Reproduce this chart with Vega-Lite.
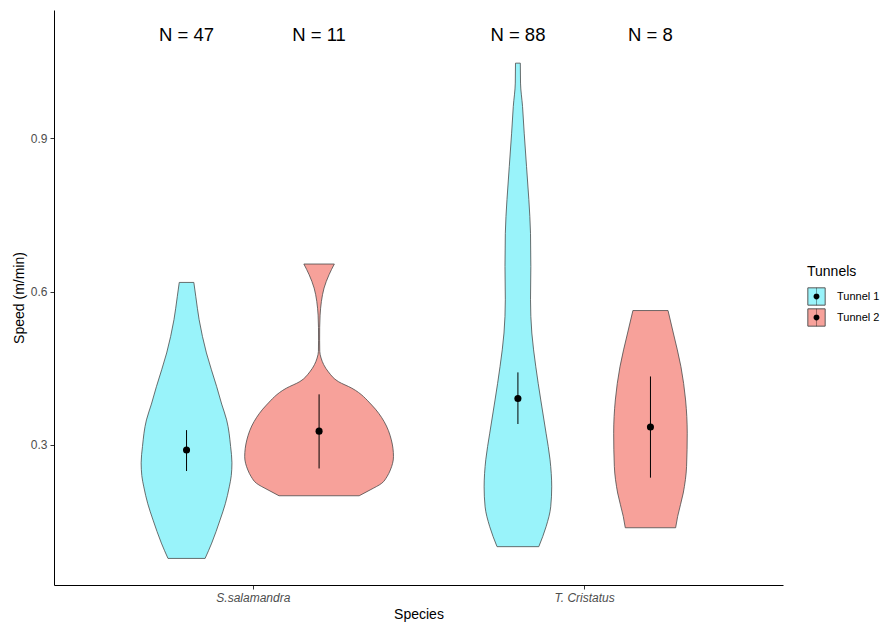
{
  "$schema": "https://vega.github.io/schema/vega-lite/v6.json",
  "width": 729,
  "height": 575,
  "autosize": {"type": "none"},
  "padding": {"left": 54, "top": 10, "right": 103, "bottom": 39},
  "background": "white",
  "config": {
    "view": {"stroke": null},
    "font": "Liberation Sans",
    "axis": {
      "grid": false,
      "domainColor": "black",
      "domainWidth": 1,
      "tickColor": "#333333",
      "tickSize": 4,
      "labelColor": "#4D4D4D",
      "labelFontSize": 12,
      "labelFont": "Liberation Sans",
      "titleFont": "Liberation Sans",
      "titleFontSize": 14,
      "titleFontWeight": "normal",
      "titleColor": "black"
    },
    "axisX": {"labelFontStyle": "italic", "labelPadding": 3, "titlePadding": 4},
    "axisY": {"labelPadding": 3, "titlePadding": 4},
    "legend": {"titleFont": "Liberation Sans", "labelFont": "Liberation Sans"}
  },
  "datasets": {
    "violins": [
      {"sp": "S.salamandra", "tunnel": "Tunnel 1", "speed": 0.618, "hw": 0.022},
      {"sp": "S.salamandra", "tunnel": "Tunnel 1", "speed": 0.590, "hw": 0.028},
      {"sp": "S.salamandra", "tunnel": "Tunnel 1", "speed": 0.545, "hw": 0.038},
      {"sp": "S.salamandra", "tunnel": "Tunnel 1", "speed": 0.480, "hw": 0.060},
      {"sp": "S.salamandra", "tunnel": "Tunnel 1", "speed": 0.414, "hw": 0.091},
      {"sp": "S.salamandra", "tunnel": "Tunnel 1", "speed": 0.380, "hw": 0.106},
      {"sp": "S.salamandra", "tunnel": "Tunnel 1", "speed": 0.349, "hw": 0.121},
      {"sp": "S.salamandra", "tunnel": "Tunnel 1", "speed": 0.297, "hw": 0.133},
      {"sp": "S.salamandra", "tunnel": "Tunnel 1", "speed": 0.265, "hw": 0.137},
      {"sp": "S.salamandra", "tunnel": "Tunnel 1", "speed": 0.240, "hw": 0.135},
      {"sp": "S.salamandra", "tunnel": "Tunnel 1", "speed": 0.218, "hw": 0.129},
      {"sp": "S.salamandra", "tunnel": "Tunnel 1", "speed": 0.185, "hw": 0.117},
      {"sp": "S.salamandra", "tunnel": "Tunnel 1", "speed": 0.153, "hw": 0.101},
      {"sp": "S.salamandra", "tunnel": "Tunnel 1", "speed": 0.108, "hw": 0.076},
      {"sp": "S.salamandra", "tunnel": "Tunnel 1", "speed": 0.078, "hw": 0.056},

      {"sp": "S.salamandra", "tunnel": "Tunnel 2", "speed": 0.654, "hw": 0.046},
      {"sp": "S.salamandra", "tunnel": "Tunnel 2", "speed": 0.633, "hw": 0.030},
      {"sp": "S.salamandra", "tunnel": "Tunnel 2", "speed": 0.607, "hw": 0.015},
      {"sp": "S.salamandra", "tunnel": "Tunnel 2", "speed": 0.581, "hw": 0.007},
      {"sp": "S.salamandra", "tunnel": "Tunnel 2", "speed": 0.554, "hw": 0.003},
      {"sp": "S.salamandra", "tunnel": "Tunnel 2", "speed": 0.530, "hw": 0.0018},
      {"sp": "S.salamandra", "tunnel": "Tunnel 2", "speed": 0.505, "hw": 0.0016},
      {"sp": "S.salamandra", "tunnel": "Tunnel 2", "speed": 0.483, "hw": 0.002},
      {"sp": "S.salamandra", "tunnel": "Tunnel 2", "speed": 0.470, "hw": 0.006},
      {"sp": "S.salamandra", "tunnel": "Tunnel 2", "speed": 0.457, "hw": 0.014},
      {"sp": "S.salamandra", "tunnel": "Tunnel 2", "speed": 0.443, "hw": 0.028},
      {"sp": "S.salamandra", "tunnel": "Tunnel 2", "speed": 0.424, "hw": 0.058},
      {"sp": "S.salamandra", "tunnel": "Tunnel 2", "speed": 0.411, "hw": 0.099},
      {"sp": "S.salamandra", "tunnel": "Tunnel 2", "speed": 0.378, "hw": 0.159},
      {"sp": "S.salamandra", "tunnel": "Tunnel 2", "speed": 0.346, "hw": 0.196},
      {"sp": "S.salamandra", "tunnel": "Tunnel 2", "speed": 0.310, "hw": 0.218},
      {"sp": "S.salamandra", "tunnel": "Tunnel 2", "speed": 0.277, "hw": 0.2245},
      {"sp": "S.salamandra", "tunnel": "Tunnel 2", "speed": 0.251, "hw": 0.215},
      {"sp": "S.salamandra", "tunnel": "Tunnel 2", "speed": 0.238, "hw": 0.205},
      {"sp": "S.salamandra", "tunnel": "Tunnel 2", "speed": 0.225, "hw": 0.189},
      {"sp": "S.salamandra", "tunnel": "Tunnel 2", "speed": 0.212, "hw": 0.154},
      {"sp": "S.salamandra", "tunnel": "Tunnel 2", "speed": 0.2006, "hw": 0.121},

      {"sp": "T. Cristatus", "tunnel": "Tunnel 1", "speed": 1.047, "hw": 0.0073},
      {"sp": "T. Cristatus", "tunnel": "Tunnel 1", "speed": 1.008, "hw": 0.0079},
      {"sp": "T. Cristatus", "tunnel": "Tunnel 1", "speed": 0.962, "hw": 0.014},
      {"sp": "T. Cristatus", "tunnel": "Tunnel 1", "speed": 0.910, "hw": 0.019},
      {"sp": "T. Cristatus", "tunnel": "Tunnel 1", "speed": 0.845, "hw": 0.026},
      {"sp": "T. Cristatus", "tunnel": "Tunnel 1", "speed": 0.780, "hw": 0.033},
      {"sp": "T. Cristatus", "tunnel": "Tunnel 1", "speed": 0.714, "hw": 0.038},
      {"sp": "T. Cristatus", "tunnel": "Tunnel 1", "speed": 0.649, "hw": 0.039},
      {"sp": "T. Cristatus", "tunnel": "Tunnel 1", "speed": 0.584, "hw": 0.038},
      {"sp": "T. Cristatus", "tunnel": "Tunnel 1", "speed": 0.519, "hw": 0.042},
      {"sp": "T. Cristatus", "tunnel": "Tunnel 1", "speed": 0.453, "hw": 0.054},
      {"sp": "T. Cristatus", "tunnel": "Tunnel 1", "speed": 0.388, "hw": 0.069},
      {"sp": "T. Cristatus", "tunnel": "Tunnel 1", "speed": 0.323, "hw": 0.085},
      {"sp": "T. Cristatus", "tunnel": "Tunnel 1", "speed": 0.271, "hw": 0.097},
      {"sp": "T. Cristatus", "tunnel": "Tunnel 1", "speed": 0.218, "hw": 0.102},
      {"sp": "T. Cristatus", "tunnel": "Tunnel 1", "speed": 0.179, "hw": 0.099},
      {"sp": "T. Cristatus", "tunnel": "Tunnel 1", "speed": 0.140, "hw": 0.085},
      {"sp": "T. Cristatus", "tunnel": "Tunnel 1", "speed": 0.101, "hw": 0.063},

      {"sp": "T. Cristatus", "tunnel": "Tunnel 2", "speed": 0.563, "hw": 0.053},
      {"sp": "T. Cristatus", "tunnel": "Tunnel 2", "speed": 0.519, "hw": 0.069},
      {"sp": "T. Cristatus", "tunnel": "Tunnel 2", "speed": 0.453, "hw": 0.092},
      {"sp": "T. Cristatus", "tunnel": "Tunnel 2", "speed": 0.388, "hw": 0.106},
      {"sp": "T. Cristatus", "tunnel": "Tunnel 2", "speed": 0.323, "hw": 0.111},
      {"sp": "T. Cristatus", "tunnel": "Tunnel 2", "speed": 0.258, "hw": 0.109},
      {"sp": "T. Cristatus", "tunnel": "Tunnel 2", "speed": 0.206, "hw": 0.099},
      {"sp": "T. Cristatus", "tunnel": "Tunnel 2", "speed": 0.160, "hw": 0.082},
      {"sp": "T. Cristatus", "tunnel": "Tunnel 2", "speed": 0.138, "hw": 0.076}
    ],
    "stats": [
      {"sp": "S.salamandra", "group": "Tunnel 1", "label": "N = 47", "speed": 0.290, "lo": 0.249, "hi": 0.329},
      {"sp": "S.salamandra", "group": "Tunnel 2", "label": "N = 11", "speed": 0.327, "lo": 0.254, "hi": 0.399},
      {"sp": "T. Cristatus", "group": "Tunnel 1", "label": "N = 88", "speed": 0.391, "lo": 0.341, "hi": 0.442},
      {"sp": "T. Cristatus", "group": "Tunnel 2", "label": "N = 8", "speed": 0.335, "lo": 0.236, "hi": 0.434}
    ]
  },
  "layer": [
    {
      "data": {"name": "violins"},
      "transform": [
        {"calculate": "(datum.sp === 'S.salamandra' ? 1 : 2) + (datum.tunnel === 'Tunnel 1' ? -0.2 : 0.2)", "as": "pos"},
        {"calculate": "datum.pos - datum.hw", "as": "left"},
        {"calculate": "datum.pos + datum.hw", "as": "right"}
      ],
      "mark": {"type": "area", "orient": "horizontal", "interpolate": "monotone", "stroke": "#4a4a4a", "strokeWidth": 0.8, "fillOpacity": 1},
      "encoding": {
        "y": {"field": "speed", "type": "quantitative", "scale": {"domain": [0.026, 1.151], "nice": false, "zero": false}, "axis": {"values": [0.3, 0.6, 0.9], "format": ".1f", "title": "Speed (m/min)"}},
        "x": {"field": "left", "type": "quantitative", "scale": {"domain": [0.4, 2.6], "nice": false, "zero": false}, "axis": {"values": [1, 2], "labelExpr": "datum.value == 1 ? 'S.salamandra' : 'T. Cristatus'", "title": "Species"}},
        "x2": {"field": "right"},
        "detail": {"field": "sp"},
        "fill": {
          "field": "tunnel", "type": "nominal",
          "scale": {"domain": ["Tunnel 1", "Tunnel 2"], "range": ["#99F3FA", "#F7A19A"]},
          "legend": {
            "title": "Tunnels", "orient": "none", "legendX": 753, "legendY": 255,
            "symbolType": "square", "symbolSize": 300, "symbolStrokeColor": "#555555", "symbolStrokeWidth": 1, "symbolOpacity": 1,
            "rowPadding": -3, "padding": 0, "labelFontSize": 11, "labelOffset": 11, "labelColor": "black",
            "titleFontSize": 14, "titleFontWeight": "normal", "titleColor": "black", "titlePadding": 8
          }
        }
      }
    },
    {
      "data": {"name": "stats"},
      "transform": [
        {"calculate": "(datum.sp === 'S.salamandra' ? 1 : 2) + (datum.group === 'Tunnel 1' ? -0.2 : 0.2)", "as": "pos"}
      ],
      "mark": {"type": "rule", "color": "black", "strokeWidth": 1},
      "encoding": {
        "x": {"field": "pos", "type": "quantitative", "title": "Species"},
        "y": {"field": "lo", "type": "quantitative", "title": "Speed (m/min)"},
        "y2": {"field": "hi"}
      }
    },
    {
      "data": {"name": "stats"},
      "transform": [
        {"calculate": "(datum.sp === 'S.salamandra' ? 1 : 2) + (datum.group === 'Tunnel 1' ? -0.2 : 0.2)", "as": "pos"}
      ],
      "mark": {"type": "point", "filled": true, "color": "black", "opacity": 1, "size": 50},
      "encoding": {
        "x": {"field": "pos", "type": "quantitative", "title": "Species"},
        "y": {"field": "speed", "type": "quantitative", "title": "Speed (m/min)"}
      }
    },
    {
      "data": {"name": "stats"},
      "transform": [
        {"calculate": "(datum.sp === 'S.salamandra' ? 1 : 2) + (datum.group === 'Tunnel 1' ? -0.2 : 0.2)", "as": "pos"}
      ],
      "mark": {"type": "point", "filled": true, "color": "black", "opacity": 0},
      "encoding": {
        "x": {"field": "pos", "type": "quantitative", "title": "Species"},
        "y": {"field": "speed", "type": "quantitative", "title": "Speed (m/min)"},
        "shape": {
          "field": "group", "type": "nominal",
          "scale": {"range": ["M-0.02,-1L0.02,-1L0.02,1L-0.02,1Z M-0.34,0A0.34,0.34,0,1,1,0.34,0A0.34,0.34,0,1,1,-0.34,0Z", "M-0.02,-1L0.02,-1L0.02,1L-0.02,1Z M-0.34,0A0.34,0.34,0,1,1,0.34,0A0.34,0.34,0,1,1,-0.34,0Z"]},
          "legend": {
            "title": "Tunnels", "titleOpacity": 0, "orient": "none", "legendX": 753, "legendY": 255,
            "symbolSize": 300, "symbolFillColor": "black", "symbolStrokeColor": "black", "symbolStrokeWidth": 1, "symbolOpacity": 1,
            "rowPadding": -3, "padding": 0, "labelFontSize": 11, "labelOffset": 11, "labelExpr": "''",
            "titleFontSize": 14, "titleFontWeight": "normal", "titlePadding": 8
          }
        }
      }
    },
    {
      "data": {"name": "stats"},
      "transform": [
        {"calculate": "(datum.sp === 'S.salamandra' ? 1 : 2) + (datum.group === 'Tunnel 1' ? -0.2 : 0.2)", "as": "pos"}
      ],
      "mark": {"type": "text", "fontSize": 18.5, "font": "Liberation Sans", "align": "center", "baseline": "alphabetic", "color": "black"},
      "encoding": {
        "x": {"field": "pos", "type": "quantitative", "title": "Species"},
        "y": {"datum": 1.0896, "type": "quantitative", "title": "Speed (m/min)"},
        "text": {"field": "label"}
      }
    }
  ]
}
